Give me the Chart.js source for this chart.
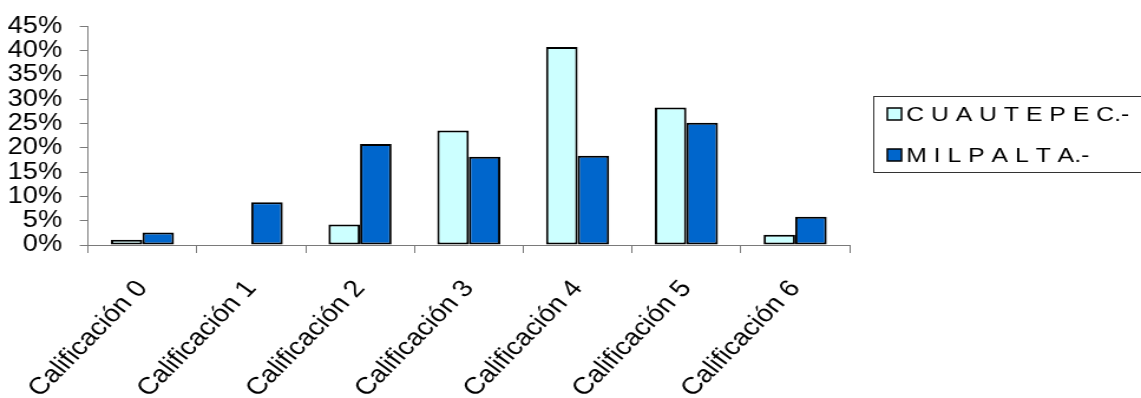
<!DOCTYPE html>
<html>
<head>
<meta charset="utf-8">
<script src="https://cdn.jsdelivr.net/npm/chart.js@4/dist/chart.umd.min.js"></script>
<style>
  html, body { margin: 0; padding: 0; background: #fff; overflow: hidden; }
  canvas { display: block; }
</style>
</head>
<body>
<!-- drawn on a narrower surface, widened to the page width -->
<canvas id="chart" width="967" height="398" style="width:1141px;height:398px"></canvas>
<script>
const categories = ['Calificación 0', 'Calificación 1', 'Calificación 2', 'Calificación 3',
                    'Calificación 4', 'Calificación 5', 'Calificación 6'];
const cuautepec = [1.1, 0, 4.2, 23.6, 40.8, 28.3, 2.1];
const milpalta  = [2.6, 8.8, 20.8, 18.2, 18.4, 25.2, 5.8];
const seriesNames = ['C U A U T E P E C.-', 'M I L P A L T A.-'];
const yMax = 45;
const yStep = 5;

const FONT = '"Liberation Sans", Arial, sans-serif';
const AXIS_GREY = '#7a7a7a';

// Boxed legend on the right, built from the chart's datasets
const boxedLegend = {
  id: 'boxedLegend',
  afterDraw(chart) {
    const ctx = chart.ctx;
    const left = 740, top = 96, bottom = 172;
    const rows = [114, 155];
    ctx.save();
    ctx.strokeStyle = '#333';
    ctx.lineWidth = 1;
    ctx.strokeRect(left + 0.5, top + 0.5, chart.width + 4 - left, bottom - top);
    ctx.font = '21px ' + FONT;
    ctx.textBaseline = 'middle';
    chart.data.datasets.forEach((ds, i) => {
      const cy = rows[i];
      ctx.fillStyle = ds.backgroundColor;
      ctx.fillRect(752, cy - 6, 12, 12);
      ctx.strokeStyle = '#000';
      ctx.lineWidth = 1.5;
      ctx.strokeRect(752, cy - 6, 12, 12);
      ctx.fillStyle = '#000';
      ctx.fillText(ds.label, 768, cy + 1);
    });
    ctx.restore();
  }
};

new Chart(document.getElementById('chart'), {
  type: 'bar',
  data: {
    labels: categories,
    datasets: [
      {
        label: seriesNames[0],
        data: cuautepec,
        backgroundColor: '#CCFFFF',
        borderColor: '#000000',
        borderWidth: 2,
        borderSkipped: false
      },
      {
        label: seriesNames[1],
        data: milpalta,
        backgroundColor: '#0066CC',
        borderColor: '#000000',
        borderWidth: 2,
        borderSkipped: false
      }
    ]
  },
  options: {
    responsive: false,
    animation: false,
    devicePixelRatio: 1,
    layout: { padding: { top: 19, right: 247, bottom: 0, left: 0 } },
    datasets: { bar: { categoryPercentage: 0.58, barPercentage: 1.0 } },
    plugins: {
      legend: { display: false },
      tooltip: { enabled: false }
    },
    scales: {
      x: {
        grid: {
          offset: true,
          drawOnChartArea: false,
          drawTicks: true,
          tickLength: 8,
          color: AXIS_GREY,
          lineWidth: 1
        },
        border: { display: true, color: AXIS_GREY, width: 1 },
        ticks: {
          autoSkip: false,
          minRotation: 50,
          maxRotation: 50,
          padding: 22,
          color: '#000',
          font: { family: FONT, size: 24 }
        },
        afterFit(scale) { scale.height = 153; }
      },
      y: {
        min: 0,
        max: yMax,
        grid: {
          drawOnChartArea: false,
          drawTicks: true,
          tickLength: 7,
          color: AXIS_GREY,
          lineWidth: 1
        },
        border: { display: true, color: AXIS_GREY, width: 1 },
        ticks: {
          stepSize: yStep,
          autoSkip: false,
          padding: 15,
          color: '#000',
          font: { family: FONT, size: 23, lineHeight: 1 },
          callback: (v) => v + '%'
        },
        afterFit(scale) { scale.width = 74.6; }
      }
    }
  },
  plugins: [boxedLegend]
});
</script>
</body>
</html>
